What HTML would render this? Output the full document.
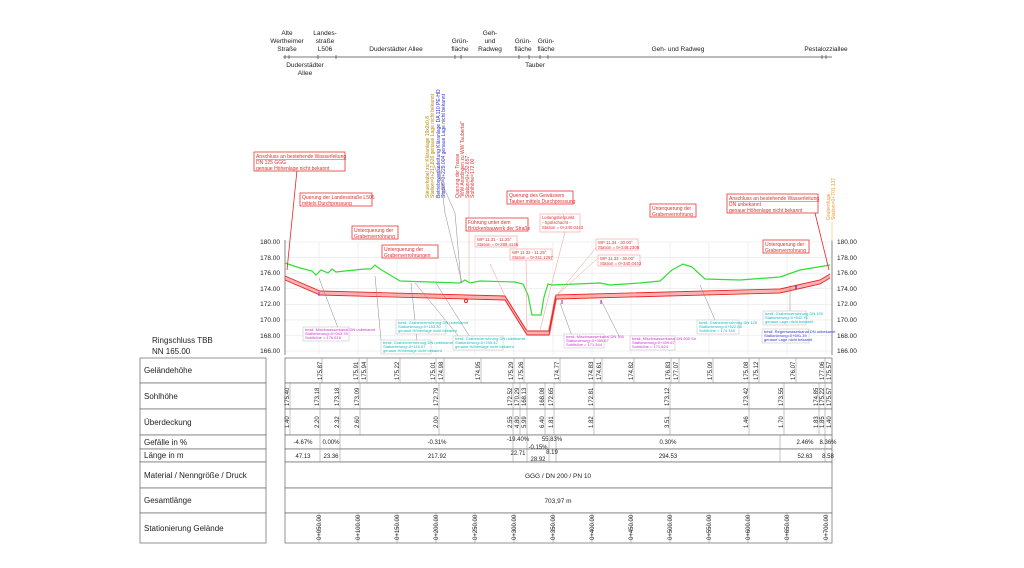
<!DOCTYPE html>
<html><head><meta charset="utf-8"><style>
html,body{margin:0;padding:0;background:#fff;}
svg{display:block;font-family:"Liberation Sans",sans-serif;}
.c{fill:#1bb}
.m{fill:#c3c}
</style></head><body>
<svg width="1024" height="568" viewBox="0 0 1024 568" xmlns="http://www.w3.org/2000/svg">
<rect width="1024" height="568" fill="#fff"/>
<g font-size="6.5" text-anchor="middle" fill="#222">
<line x1="283" y1="57" x2="832" y2="57" stroke="#777" stroke-width="1"/>
<text x="287" y="35">Alte</text><text x="287" y="43">Wertheimer</text><text x="287" y="51">Straße</text>
<text x="325" y="35">Landes-</text><text x="325" y="43">straße</text><text x="325" y="51">L506</text>
<text x="396" y="51">Duderstädter Allee</text>
<text x="460" y="43">Grün-</text><text x="460" y="51">fläche</text>
<text x="490" y="35">Geh-</text><text x="490" y="43">und</text><text x="490" y="51">Radweg</text>
<text x="523" y="43">Grün-</text><text x="523" y="51">fläche</text>
<text x="546" y="43">Grün-</text><text x="546" y="51">fläche</text>
<text x="678" y="51">Geh- und Radweg</text>
<text x="826" y="51">Pestalozziallee</text>
<text x="305" y="67">Duderstädter</text><text x="305" y="75">Allee</text>
<text x="535" y="67">Tauber</text>
<g stroke="#444" stroke-width="0.7">
<path d="M285 55v4M289 55v4M318 55v4M336 55v4M455 55v4M461 55v4M519 55v4M529 55v4M540 55v4M548 55v4M822 55v4M826 55v4"/>
</g>
</g>
<g stroke="#e6e6e6" stroke-width="0.6">
<path d="M285 242H832M285 257.6H832M285 273.2H832M285 288.7H832M285 304.3H832M285 319.9H832M285 335.5H832M285 351H832"/>
<path d="M319 242V355M358 242V355M397 242V355M436 242V355M475 242V355M514 242V355M553 242V355M592 242V355M631 242V355M670 242V355M709 242V355M748 242V355M787 242V355M826 242V355"/>
</g>
<g stroke="#555" stroke-width="0.7"><line x1="285" y1="240" x2="285" y2="355"/><line x1="832" y1="240" x2="832" y2="355"/></g>
<g font-size="6.5" fill="#222">
<g text-anchor="end"><text x="280" y="244">180.00</text><text x="280" y="260">178.00</text><text x="280" y="275">176.00</text><text x="280" y="291">174.00</text><text x="280" y="306">172.00</text><text x="280" y="322">170.00</text><text x="280" y="338">168.00</text><text x="280" y="353">166.00</text></g>
<text x="837" y="244">180.00</text><text x="837" y="260">178.00</text><text x="837" y="275">176.00</text><text x="837" y="291">174.00</text><text x="837" y="306">172.00</text><text x="837" y="322">170.00</text><text x="837" y="338">168.00</text><text x="837" y="353">166.00</text>
</g>
<text x="152" y="343" font-size="8" fill="#222">Ringschluss TBB</text>
<text x="152" y="354" font-size="8" fill="#222">NN 165.00</text>
<polyline fill="none" stroke="#3d3" stroke-width="1.2" points="285,263 300,268 312,271 316,275 321,270 328,273 332,269 336,272 345,271 365,269 371,269 375,265 380,269 400,281 460,283 465,280 470,283 480,281 515,282 523,284 528,295 532,315 541,315 544,297 548,284 552,285 600,283 610,285 640,283 660,281 672,270 683,264 692,267 705,279 740,280 780,277 800,270 830,265"/>
<g fill="none" stroke="#e22">
<polyline stroke-width="3" stroke-opacity="0.35" points="285,278 320,293 505,298 527,333 549,333 556,297 780,291 820,282 830,276"/>
<polyline stroke-width="0.9" points="285,276 320,291 505,296 527,331 549,331 556,295 780,289 820,280 830,274"/>
<polyline stroke-width="0.9" points="285,280 320,295 505,300 527,335 549,335 556,299 780,293 820,284 830,278"/>
<line x1="287" y1="270" x2="297" y2="170" stroke-width="0.8"/>
<line x1="829" y1="270" x2="815" y2="213" stroke-width="0.8"/>
<circle cx="466" cy="301" r="1.6"/>
</g>
<g stroke="#888" stroke-width="0.5" fill="none">
<path d="M319 278L338 328M375 276L381 340M411 283L417 340M415 283L460 338M436 283L470 337M433 163L455 213L461 283M439 163L445 213L462 283M560 303L572 336M601 300L620 338M700 285L715 320M790 285L790 320"/>
<path d="M556 296L600 243M556 296L598 258M505 296L490 264M527 333L526 256M540 330L565 232M469 282V175" stroke="#e99"/>
</g>
<g font-size="5" fill="#d33">
<rect x="254" y="152" width="91" height="19" fill="#fff" stroke="#e33" stroke-width="0.8"/>
<text x="256" y="158" text-decoration="underline">Anschluss an bestehende Wasserleitung</text><text x="256" y="164">DN 125 GGG</text><text x="256" y="170">genaue Höhenlage nicht bekannt</text>
<rect x="300" y="193" width="72" height="13" fill="#fff" stroke="#e33" stroke-width="0.8"/>
<text x="302" y="199">Querung der Landesstraße L506</text><text x="302" y="205">mittels Durchpressung</text>
<rect x="352" y="226" width="46" height="13" fill="#fff" stroke="#e33" stroke-width="0.8"/>
<text x="354" y="232">Unterquerung der</text><text x="354" y="238">Grabenverrohrung</text>
<rect x="382" y="245" width="56" height="13" fill="#fff" stroke="#e33" stroke-width="0.8"/>
<text x="384" y="251">Unterquerung der</text><text x="384" y="257">Grabenverrohrungen</text>
<rect x="507" y="191" width="66" height="13" fill="#fff" stroke="#e33" stroke-width="0.8"/>
<text x="509" y="197">Querung des Gewässers</text><text x="509" y="203">Tauber mittels Durchpressung</text>
<rect x="466" y="218" width="62" height="13" fill="#fff" stroke="#e33" stroke-width="0.8"/>
<text x="468" y="224">Führung unter dem</text><text x="468" y="230">Brückenbauwerk der Straße</text>
<rect x="650" y="204" width="46" height="13" fill="#fff" stroke="#e33" stroke-width="0.8"/>
<text x="652" y="210">Unterquerung der</text><text x="652" y="216">Grabenverrohrung</text>
<rect x="727" y="194" width="91" height="19" fill="#fff" stroke="#e33" stroke-width="0.8"/>
<text x="729" y="200" text-decoration="underline">Anschluss an bestehende Wasserleitung</text><text x="729" y="206">DN unbekannt</text><text x="729" y="212">genaue Höhenlage nicht bekannt</text>
<rect x="763" y="240" width="46" height="13" fill="#fff" stroke="#e33" stroke-width="0.8"/>
<text x="765" y="246">Unterquerung der</text><text x="765" y="252">Grabenverrohrung</text>
</g>
<g font-size="4.3" fill="#d33">
<rect x="540" y="214" width="40" height="18" fill="#fff" stroke="#f99" stroke-width="0.6"/>
<text x="542" y="219">Leitungstiefpunkt</text><text x="542" y="224">- Spülschacht -</text><text x="542" y="229">Station = 0+340.0443</text>
<rect x="475" y="236" width="42" height="11" fill="#fff" stroke="#f99" stroke-width="0.6"/>
<text x="477" y="241">WP 11.31 - 11.25°</text><text x="477" y="246">Station = 0+288.4146</text>
<rect x="510" y="249" width="42" height="11" fill="#fff" stroke="#f99" stroke-width="0.6"/>
<text x="512" y="254">WP 11.32 - 11.25°</text><text x="512" y="259">Station = 0+311.1267</text>
<rect x="596" y="239" width="42" height="11" fill="#fff" stroke="#f99" stroke-width="0.6"/>
<text x="598" y="244">WP 11.34 - 30.00°</text><text x="598" y="249">Station = 0+348.2308</text>
<rect x="598" y="255" width="42" height="11" fill="#fff" stroke="#f99" stroke-width="0.6"/>
<text x="600" y="260">WP 11.33 - 30.00°</text><text x="600" y="265">Station = 0+340.0443</text>
</g>
<g font-size="5">
<text transform="translate(429,198) rotate(-90)" fill="#b80">Steuerkabel zur Kläranlage 19x2x0,8</text>
<text transform="translate(434,198) rotate(-90)" fill="#b80">Station=0+217.826 genaue Lage nicht bekannt</text>
<text transform="translate(440,198) rotate(-90)" fill="#33c">Betriebswasserleitung Kläranlage DA 110 PE-HD</text>
<text transform="translate(445,198) rotate(-90)" fill="#33c">Station=0+229.004 genaue Lage nicht bekannt</text>
<text transform="translate(459,198) rotate(-90)" fill="#d33">Querung der Trasse</text>
<text transform="translate(464,198) rotate(-90)" fill="#d33">"WW Ansdingen zu WW Taubertal"</text>
<text transform="translate(469,198) rotate(-90)" fill="#d33">Station=0+232.657</text>
<text transform="translate(474,198) rotate(-90)" fill="#d33">Sohlhöhe=172.00</text>
<text transform="translate(830,220) rotate(-90)" fill="#e93">Grabenfuge</text>
<text transform="translate(835,220) rotate(-90)" fill="#e93">Station=0+701.137</text>
</g>
<line x1="832" y1="222" x2="832" y2="242" stroke="#fb6" stroke-width="0.6"/>
<g font-size="4">
<rect x="303" y="327" width="46" height="14" fill="#fff" stroke="#bbb" stroke-width="0.5"/>
<text x="305" y="331" class="m">bestl. Mischwasserkanal DN unbekannt</text><text x="305" y="335" class="m">Stationierung=0+043.78</text><text x="305" y="339" class="m">Sohlhöhe = 176.616</text>
<rect x="381" y="340" width="50" height="14" fill="#fff" stroke="#bbb" stroke-width="0.5"/>
<text x="383" y="344" class="c">bestl. Grabenverrohrung DN unbekannt</text><text x="383" y="348" class="c">Stationierung=0+115.07</text><text x="383" y="352" class="c">genaue Höhenlage nicht bekannt</text>
<rect x="396" y="320" width="50" height="14" fill="#fff" stroke="#bbb" stroke-width="0.5"/>
<text x="398" y="324" class="c">bestl. Grabenverrohrung DN unbekannt</text><text x="398" y="328" class="c">Stationierung=0+153.30</text><text x="398" y="332" class="c">genaue Höhenlage nicht bekannt</text>
<rect x="453" y="336" width="50" height="14" fill="#fff" stroke="#bbb" stroke-width="0.5"/>
<text x="455" y="340" class="c">bestl. Grabenverrohrung DN unbekannt</text><text x="455" y="344" class="c">Stationierung=0+205.42</text><text x="455" y="348" class="c">genaue Höhenlage nicht bekannt</text>
<rect x="564" y="334" width="40" height="14" fill="#fff" stroke="#bbb" stroke-width="0.5"/>
<text x="566" y="338" class="m">bestl. Mischwasserkanal DN 700</text><text x="566" y="342" class="m">Stationierung=0+355.67</text><text x="566" y="346" class="m">Sohlhöhe = 171.344</text>
<rect x="630" y="336" width="45" height="14" fill="#fff" stroke="#bbb" stroke-width="0.5"/>
<text x="632" y="340" class="m">bestl. Mischwasserkanal DN 600 Sn</text><text x="632" y="344" class="m">Stationierung=0+409.67</text><text x="632" y="348" class="m">Sohlhöhe = 171.624</text>
<rect x="697" y="320" width="42" height="14" fill="#fff" stroke="#bbb" stroke-width="0.5"/>
<text x="699" y="324" class="c">bestl. Grabenverrohrung DN 125</text><text x="699" y="328" class="c">Stationierung=0+522.08</text><text x="699" y="332" class="c">Sohlhöhe = 174.345</text>
<rect x="763" y="311" width="43" height="14" fill="#fff" stroke="#bbb" stroke-width="0.5"/>
<text x="765" y="315" class="c">bestl. Grabenverrohrung DN 100</text><text x="765" y="319" class="c">Stationierung=0+642.76</text><text x="765" y="323" class="c">genaue Lage nicht bekannt</text>
<rect x="762" y="329" width="47" height="14" fill="#fff" stroke="#bbb" stroke-width="0.5"/>
<text x="764" y="333" fill="#33c">bestl. Regenwasserkanal DN unbekannt</text><text x="764" y="337" fill="#33c">Stationierung=0+691.39</text><text x="764" y="341" fill="#33c">genaue Lage nicht bekannt</text>
</g>
<g stroke="#c3c" stroke-width="1.2"><path d="M319 292v4M562 300v4M601 300v4"/></g>
<path d="M796 285v4" stroke="#33c" stroke-width="1.2"/>
<g fill="#fff" stroke="#666" stroke-width="0.7">
<rect x="140" y="358" width="126" height="25"/><rect x="140" y="383" width="126" height="26"/><rect x="140" y="409" width="126" height="26"/>
<rect x="140" y="435" width="126" height="14"/><rect x="140" y="449" width="126" height="13"/><rect x="140" y="462" width="126" height="26"/>
<rect x="140" y="488" width="126" height="25"/><rect x="140" y="513" width="126" height="30"/>
<rect x="285" y="358" width="547" height="25"/><rect x="285" y="383" width="547" height="26"/><rect x="285" y="409" width="547" height="26"/>
<rect x="285" y="435" width="547" height="14"/><rect x="285" y="449" width="547" height="13"/><rect x="285" y="462" width="547" height="26"/>
<rect x="285" y="488" width="547" height="25"/><rect x="285" y="513" width="547" height="30"/>
</g>
<g font-size="8" fill="#222">
<text x="144" y="373">Geländehöhe</text><text x="144" y="399">Sohlhöhe</text><text x="144" y="425">Überdeckung</text>
<text x="144" y="445">Gefälle in %</text><text x="144" y="458">Länge in m</text><text x="144" y="478">Material / Nenngröße / Druck</text>
<text x="144" y="503">Gesamtlänge</text><text x="144" y="531">Stationierung Gelände</text>
</g>
<g font-size="6.5" fill="#222" text-anchor="middle">
<text x="558" y="478">GGG / DN 200 / PN 10</text><text x="558" y="503">703,97 m</text>
</g>
<g stroke="#888" stroke-width="0.5">
<path d="M322 358v25M359 358v25M367 358v25M400 358v25M436 358v25M444 358v25M481 358v25M514 358v25M524 358v25M560 358v25M594 358v25M602 358v25M634 358v25M671 358v25M679 358v25M713 358v25M749 358v25M759 358v25M796 358v25M825 358v25"/>
<path d="M290 383v52M320 383v52M340 383v52M360 383v52M439 383v52M513 383v52M520 383v52M527 383v52M545 383v52M554 383v52M594 383v52M670 383v52M749 383v52M784 383v52M819 383v52M825 383v52"/>
<path d="M320 435v27M340 435v27M513 435v27M527 435v27M549 435v27M556 435v27M780 435v27M825 435v27"/>
<path d="M319 513v30M358 513v30M397 513v30M436 513v30M475 513v30M514 513v30M553 513v30M592 513v30M631 513v30M670 513v30M709 513v30M748 513v30M787 513v30M826 513v30"/>
</g>
<g font-size="6" fill="#222">
<text transform="translate(322,380) rotate(-90)">175.87</text><text transform="translate(358,380) rotate(-90)">175.91</text><text transform="translate(366,380) rotate(-90)">175.94</text><text transform="translate(399,380) rotate(-90)">175.22</text><text transform="translate(435,380) rotate(-90)">175.01</text><text transform="translate(443,380) rotate(-90)">174.98</text><text transform="translate(480,380) rotate(-90)">174.95</text><text transform="translate(513,380) rotate(-90)">175.29</text><text transform="translate(523,380) rotate(-90)">175.26</text><text transform="translate(559,380) rotate(-90)">174.77</text><text transform="translate(593,380) rotate(-90)">174.83</text><text transform="translate(601,380) rotate(-90)">174.61</text><text transform="translate(633,380) rotate(-90)">174.82</text><text transform="translate(670,380) rotate(-90)">176.83</text><text transform="translate(678,380) rotate(-90)">177.07</text><text transform="translate(712,380) rotate(-90)">175.09</text><text transform="translate(748,380) rotate(-90)">175.08</text><text transform="translate(758,380) rotate(-90)">175.12</text><text transform="translate(795,380) rotate(-90)">176.07</text><text transform="translate(824,380) rotate(-90)">177.06</text><text transform="translate(831,380) rotate(-90)">175.57</text>
<text transform="translate(289,406) rotate(-90)">175.40</text><text transform="translate(319,406) rotate(-90)">173.18</text><text transform="translate(339,406) rotate(-90)">173.18</text><text transform="translate(359,406) rotate(-90)">173.09</text><text transform="translate(438,406) rotate(-90)">172.79</text><text transform="translate(512,406) rotate(-90)">172.52</text><text transform="translate(519,406) rotate(-90)">170.29</text><text transform="translate(526,406) rotate(-90)">168.13</text><text transform="translate(544,406) rotate(-90)">168.08</text><text transform="translate(553,406) rotate(-90)">172.65</text><text transform="translate(593,406) rotate(-90)">172.81</text><text transform="translate(669,406) rotate(-90)">173.12</text><text transform="translate(748,406) rotate(-90)">173.42</text><text transform="translate(783,406) rotate(-90)">173.55</text><text transform="translate(818,406) rotate(-90)">174.85</text><text transform="translate(824,406) rotate(-90)">175.22</text><text transform="translate(831,406) rotate(-90)">175.57</text>
<text transform="translate(289,428) rotate(-90)">1.40</text><text transform="translate(319,428) rotate(-90)">2.20</text><text transform="translate(339,428) rotate(-90)">2.32</text><text transform="translate(359,428) rotate(-90)">2.60</text><text transform="translate(438,428) rotate(-90)">2.00</text><text transform="translate(512,428) rotate(-90)">2.55</text><text transform="translate(519,428) rotate(-90)">4.80</text><text transform="translate(526,428) rotate(-90)">5.99</text><text transform="translate(544,428) rotate(-90)">6.40</text><text transform="translate(553,428) rotate(-90)">1.81</text><text transform="translate(593,428) rotate(-90)">1.82</text><text transform="translate(669,428) rotate(-90)">3.51</text><text transform="translate(748,428) rotate(-90)">1.46</text><text transform="translate(783,428) rotate(-90)">1.70</text><text transform="translate(818,428) rotate(-90)">1.83</text><text transform="translate(824,428) rotate(-90)">1.85</text><text transform="translate(831,428) rotate(-90)">1.40</text>
<g text-anchor="middle">
<text x="303" y="444">-4.67%</text><text x="331" y="444">0.00%</text><text x="437" y="444">-0.31%</text><text x="518" y="441">-19.40%</text><text x="538" y="449">-0.15%</text><text x="552" y="441">55.83%</text><text x="668" y="444">0.30%</text><text x="805" y="444">2.46%</text><text x="828" y="444">8.36%</text>
<text x="303" y="458">47.13</text><text x="331" y="458">23.36</text><text x="437" y="458">217.92</text><text x="518" y="455">22.71</text><text x="538" y="461">28.92</text><text x="552" y="454">8.19</text><text x="668" y="458">294.53</text><text x="805" y="458">52.63</text><text x="828" y="458">8.58</text>
</g>
<text transform="translate(321,540) rotate(-90)">0+050.00</text><text transform="translate(360,540) rotate(-90)">0+100.00</text><text transform="translate(399,540) rotate(-90)">0+150.00</text><text transform="translate(438,540) rotate(-90)">0+200.00</text><text transform="translate(477,540) rotate(-90)">0+250.00</text><text transform="translate(516,540) rotate(-90)">0+300.00</text><text transform="translate(555,540) rotate(-90)">0+350.00</text><text transform="translate(594,540) rotate(-90)">0+400.00</text><text transform="translate(633,540) rotate(-90)">0+450.00</text><text transform="translate(672,540) rotate(-90)">0+500.00</text><text transform="translate(711,540) rotate(-90)">0+550.00</text><text transform="translate(750,540) rotate(-90)">0+600.00</text><text transform="translate(789,540) rotate(-90)">0+650.00</text><text transform="translate(828,540) rotate(-90)">0+700.00</text>
</g>
</svg>
</body></html>
